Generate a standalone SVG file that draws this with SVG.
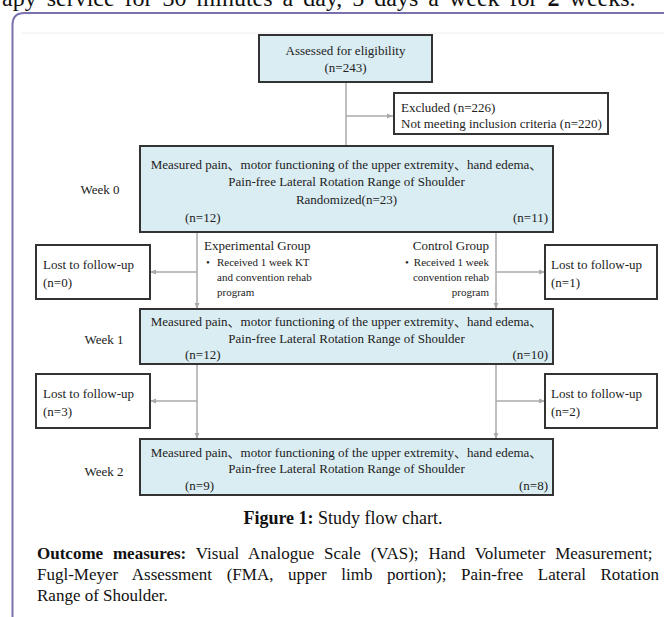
<svg xmlns="http://www.w3.org/2000/svg" width="664" height="617" viewBox="0 0 664 617">
<style>
.t{font-family:"Liberation Serif","Noto Sans CJK SC",serif;fill:#222;font-size:13px}
.m{text-anchor:middle}
.e{text-anchor:end}
.sm{font-size:11px}
.box{fill:#daedf3;stroke:#333;stroke-width:2}
.lost{fill:#fff;stroke:#333;stroke-width:2}
.conn{stroke:#aaa;stroke-width:1.5;fill:none}
.body{font-family:"Liberation Serif",serif;fill:#111}
</style>
<defs>
<marker id="arr" viewBox="0 0 10 10" refX="10" refY="5" markerWidth="6" markerHeight="6" orient="auto" markerUnits="userSpaceOnUse"><path d="M0,1 L10,5 L0,9 z" fill="#aaa"/></marker>
</defs>
<rect width="664" height="617" fill="#fff"/>
<text class="body" x="2" y="6" font-size="24" word-spacing="4">apy service for 30 minutes a day, 5 days a week for <tspan font-weight="bold">2</tspan> weeks.</text>
<path d="M12.5 617 V25 Q12.5 13 24.5 13 H664" fill="none" stroke="#7a72ae" stroke-width="2"/>
<line x1="22" y1="33" x2="664" y2="33" stroke="#eee" stroke-width="1"/>

<g id="connectors">
<line class="conn" x1="346" y1="82" x2="346" y2="146"/>
<line class="conn" x1="346" y1="116" x2="393" y2="116" marker-end="url(#arr)"/>
<line class="conn" x1="197" y1="232" x2="197" y2="309" marker-end="url(#arr)"/>
<line class="conn" x1="197" y1="272" x2="150" y2="272" marker-end="url(#arr)"/>
<line class="conn" x1="496" y1="232" x2="496" y2="309" marker-end="url(#arr)"/>
<line class="conn" x1="496" y1="272" x2="545" y2="272" marker-end="url(#arr)"/>
<line class="conn" x1="197" y1="364" x2="197" y2="439" marker-end="url(#arr)"/>
<line class="conn" x1="197" y1="401" x2="150" y2="401" marker-end="url(#arr)"/>
<line class="conn" x1="496" y1="364" x2="496" y2="439" marker-end="url(#arr)"/>
<line class="conn" x1="496" y1="401" x2="545" y2="401" marker-end="url(#arr)"/>
</g>

<g id="assessed">
<rect class="box" x="259" y="35" width="173" height="47"/>
<text class="t m" x="345.5" y="54.5">Assessed for eligibility</text>
<text class="t m" x="345.5" y="71.5">(n=243)</text>
</g>
<g id="excluded">
<rect class="lost" x="394" y="93" width="214" height="41"/>
<text class="t" x="401" y="111.5">Excluded (n=226)</text>
<text class="t" x="401" y="127.5">Not meeting inclusion criteria (n=220)</text>
</g>
<g id="week0">
<text class="t m" x="100" y="194">Week 0</text>
<rect class="box" x="140" y="146" width="413" height="86"/>
<text class="t m" x="346.5" y="168.5">Measured pain、motor functioning of the upper extremity、hand edema、</text>
<text class="t m" x="346.5" y="186">Pain-free Lateral Rotation Range of Shoulder</text>
<text class="t m" x="346.5" y="203.5">Randomized(n=23)</text>
<text class="t" x="185" y="221.5">(n=12)</text>
<text class="t e" x="548" y="221.5">(n=11)</text>
</g>
<g id="experimental">
<text class="t" x="204" y="250">Experimental  Group</text>
<text class="t sm" x="206" y="266">•</text>
<text class="t sm" x="217" y="266">Received 1 week KT</text>
<text class="t sm" x="217" y="281">and convention rehab</text>
<text class="t sm" x="217" y="296">program</text>
</g>
<g id="control">
<text class="t e" x="489" y="250">Control  Group</text>
<text class="t sm" x="405" y="266">•</text>
<text class="t sm e" x="489" y="266">Received 1 week</text>
<text class="t sm e" x="489" y="281">convention rehab</text>
<text class="t sm e" x="489" y="296">program</text>
</g>
<g id="lost0">
<rect class="lost" x="36" y="245" width="114" height="54"/>
<text class="t" x="43" y="269">Lost to follow-up</text>
<text class="t" x="43" y="287">(n=0)</text>
</g>
<g id="lost1">
<rect class="lost" x="545" y="245" width="112" height="54"/>
<text class="t" x="551" y="269">Lost to follow-up</text>
<text class="t" x="551" y="287">(n=1)</text>
</g>
<g id="week1">
<text class="t m" x="104" y="344">Week 1</text>
<rect class="box" x="140" y="309" width="413" height="55"/>
<text class="t m" x="346.5" y="325.5">Measured pain、motor functioning of the upper extremity、hand edema、</text>
<text class="t m" x="346.5" y="342.5">Pain-free Lateral Rotation Range of Shoulder</text>
<text class="t" x="185" y="358.5">(n=12)</text>
<text class="t e" x="548" y="358.5">(n=10)</text>
</g>
<g id="lost3">
<rect class="lost" x="36" y="374" width="114" height="54"/>
<text class="t" x="43" y="398">Lost to follow-up</text>
<text class="t" x="43" y="416">(n=3)</text>
</g>
<g id="lost2">
<rect class="lost" x="545" y="374" width="112" height="54"/>
<text class="t" x="551" y="398">Lost to follow-up</text>
<text class="t" x="551" y="416">(n=2)</text>
</g>
<g id="week2">
<text class="t m" x="104" y="476">Week 2</text>
<rect class="box" x="140" y="439" width="413" height="56"/>
<text class="t m" x="346.5" y="456.5">Measured pain、motor functioning of the upper extremity、hand edema、</text>
<text class="t m" x="346.5" y="472.5">Pain-free Lateral Rotation Range of Shoulder</text>
<text class="t" x="185" y="489.5">(n=9)</text>
<text class="t e" x="548" y="489.5">(n=8)</text>
</g>

<text class="body" x="343" y="524" font-size="18" text-anchor="middle"><tspan font-weight="bold">Figure 1:</tspan> Study flow chart.</text>
<text class="body" x="37" y="559" font-size="17" word-spacing="5.6"><tspan font-weight="bold">Outcome measures:</tspan> Visual Analogue Scale (VAS); Hand Volumeter Measurement;</text>
<text class="body" x="37" y="580" font-size="17" word-spacing="10.3">Fugl-Meyer Assessment (FMA, upper limb portion); Pain-free Lateral Rotation</text>
<text class="body" x="37" y="601" font-size="17">Range of Shoulder.</text>
</svg>
